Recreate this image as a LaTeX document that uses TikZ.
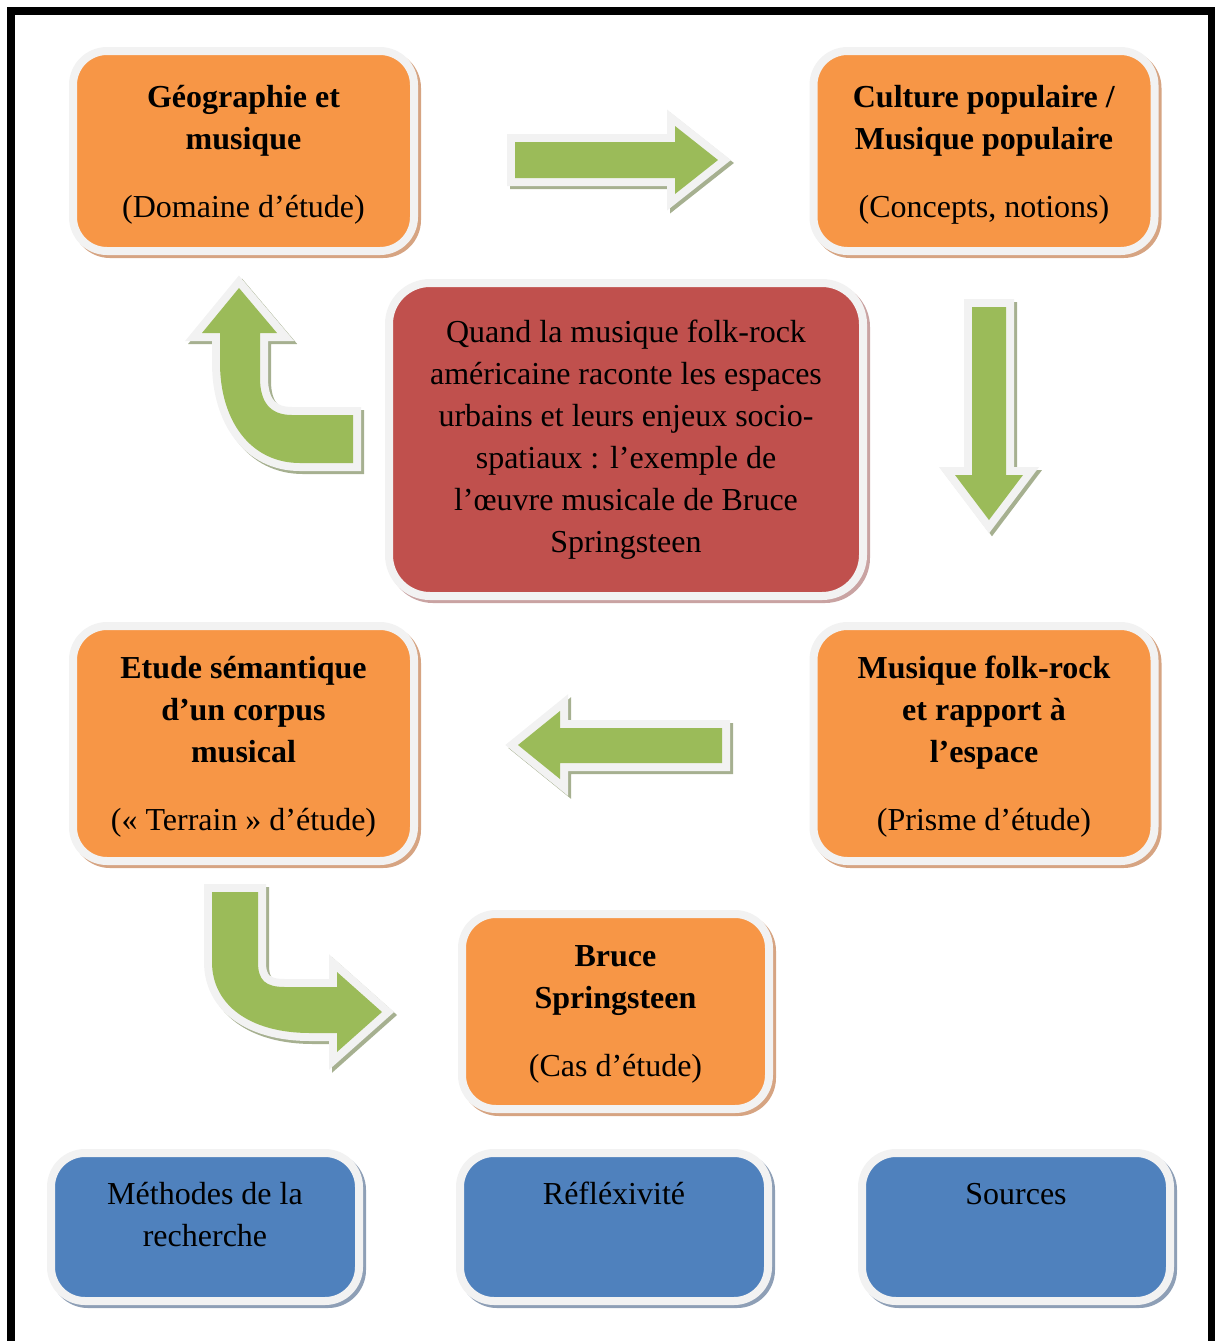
\documentclass[tikz,border=0pt]{standalone}
\usepackage{fontspec}
\setmainfont{Liberation Serif}
\usetikzlibrary{positioning}
\definecolor{boxorange}{HTML}{F79646}
\definecolor{boxred}{HTML}{C0504D}
\definecolor{boxblue}{HTML}{4F81BD}
\definecolor{arrowgreen}{HTML}{9BBB59}
\definecolor{edgegrey}{HTML}{F2F2F2}
\definecolor{shadeorange}{HTML}{D6A482}
\definecolor{shadered}{HTML}{C9A3A2}
\definecolor{shadeblue}{HTML}{8E9FB6}
\definecolor{shadegreen}{HTML}{A6B090}
\tikzset{
  % Cadres arrondis avec bord clair et ombre
  box/.style={rounded corners=17pt,line width=4pt,draw=edgegrey,inner sep=0pt,
    align=center,font=\fontsize{16pt}{21pt}\selectfont,
    preaction={draw=#1,fill=#1,line width=4pt,transform canvas={shift={(1.5pt,-1.5pt)}}}},
  box orange/.style={box=shadeorange,fill=boxorange,minimum width=170.5pt,minimum height=100pt,
    text depth=-1pt},
  box tall/.style={box orange,minimum height=117.5pt},
  box case/.style={box orange,minimum width=153.5pt,minimum height=97.5pt},
  box red/.style={box=shadered,fill=boxred,rounded corners=20.5pt,minimum width=237pt,minimum height=156.5pt},
  box blue/.style={box=shadeblue,fill=boxblue,minimum width=154pt,minimum height=74pt},
  box text/.style={inner sep=0pt,align=center,text height=12pt,font=\fontsize{16pt}{21pt}\selectfont},
  % Fleches pleines
  green arrow/.style={fill=arrowgreen,
    preaction={draw=shadegreen,line width=8pt,transform canvas={shift={(1.5pt,-1.5pt)}}},
    preaction={draw=edgegrey,line width=8pt}}
}
\begin{document}
\begin{tikzpicture}[x=0.5pt,y=-0.5pt]
  \useasboundingbox (0,0) rectangle (1215,1341);
  \clip (0,0) rectangle (1215,1341);
  \draw[line width=4pt] (11,1400) -- (11,11) -- (1212,11) -- (1212,1400);

  % Boites du schema
  \node[box orange] (geo) at (243.5,151) {\textbf{Géographie et}\\\textbf{musique}\\[13pt](Domaine d’étude)};
  \node[box orange] (culture) at (984,151) {\textbf{Culture populaire /}\\\textbf{Musique populaire}\\[13pt](Concepts, notions)};
  \node[box red] (sujet) at (626,439.5) {Quand la musique folk-rock\\américaine raconte les espaces\\urbains et leurs enjeux socio-\\spatiaux : l’exemple de\\l’œuvre musicale de Bruce\\Springsteen};
  \node[box tall] (etude) at (243.5,743.5) {\textbf{Etude sémantique}\\\textbf{d’un corpus}\\\textbf{musical}\\[13pt](« Terrain » d’étude)};
  \node[box tall] (folk) at (984,743.5) {\textbf{Musique folk-rock}\\\textbf{et rapport à}\\\textbf{l’espace}\\[13pt](Prisme d’étude)};
  \node[box case] (bruce) at (615.5,1011.5) {\textbf{Bruce}\\\textbf{Springsteen}\\[13pt](Cas d’étude)};

  % Boites du bas
  \node[box blue] (methodes) at (205,1227) {};
  \node[box blue] (reflex) at (614,1227) {};
  \node[box blue] (sources) at (1016,1227) {};
  \node[box text,text height=33pt,below=15.5pt of methodes.north] (methodes txt) {Méthodes de la\\recherche};
  \node[box text,below=15.5pt of reflex.north] (reflex txt) {Réfléxivité};
  \node[box text,below=15.5pt of sources.north] (sources txt) {Sources};

  % Fleches
  \path[green arrow] (515,142) -- (675,142) -- (675,126) -- (718,160) -- (675,194) -- (675,178) -- (515,178) -- cycle;
  \path[green arrow] (972,307) -- (1006,307) -- (1006,475) -- (1023,475) -- (989,520) -- (955,475) -- (972,475) -- cycle;
  \path[green arrow] (722,728) -- (560,728) -- (560,711) -- (518,745) -- (560,779) -- (560,763) -- (722,763) -- cycle;
  \path[green arrow] (239,288) -- (277,333) -- (260,333) -- (260,378)
    .. controls (260,402) and (270,415) .. (292,415) -- (353,415) -- (353,463) -- (300,463)
    .. controls (250,463) and (220,420) .. (220,363) -- (220,333) -- (202,333) -- cycle;
  \path[green arrow] (212,892) -- (258,892) -- (258,962)
    .. controls (258,980) and (265,987) .. (285,987) -- (337,987) -- (337,972) -- (382,1012)
    -- (337,1052) -- (337,1033) -- (310,1033) .. controls (250,1033) and (212,1005) .. (212,962) -- cycle;
\end{tikzpicture}
\end{document}
